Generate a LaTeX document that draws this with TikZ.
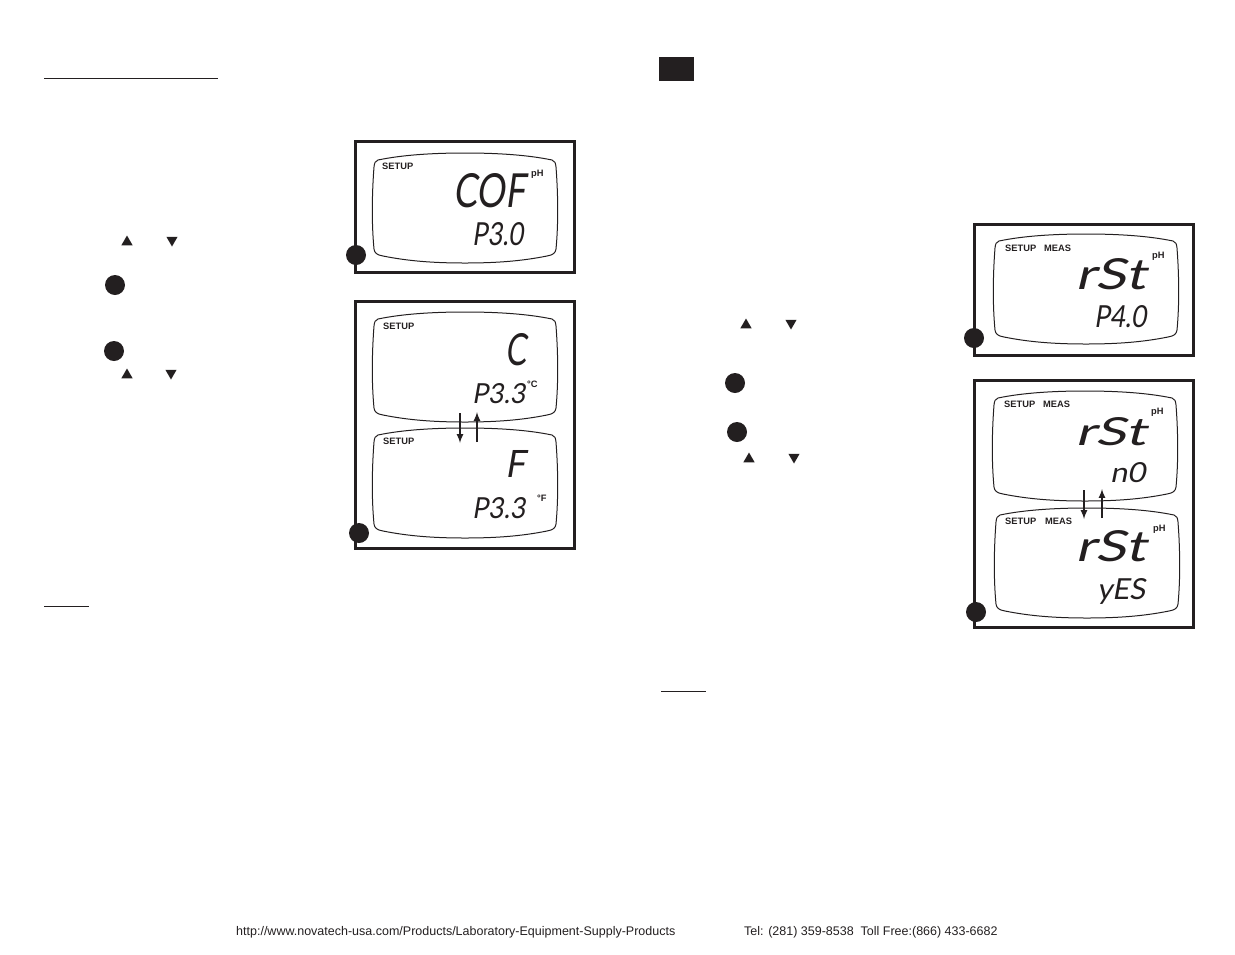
\documentclass[tikz,border=0pt]{standalone}
\usepackage{fontspec}
\usepackage{graphicx}
\usepackage{tikz}
\usetikzlibrary{arrows}
\usetikzlibrary{shapes.geometric}
\setmainfont{Liberation Sans}
\newfontfamily\lcdfont[FakeSlant=0.18]{Lato}
\definecolor{inkblack}{HTML}{231F20}
\def\lcdtext#1#2#3{\resizebox{#1pt}{#2pt}{\lcdfont #3}}
\tikzset{
  lcdpanel/.pic={\draw[inkblack,line width=1pt] (6,7) .. controls (30,2) and (60,0) .. (93,0) .. controls (126,0) and (156,2) .. (180,7) .. controls (183,8) and (183.5,10) .. (184,14) .. controls (186,40) and (186.5,70) .. (184,96) .. controls (183.5,100) and (181,102) .. (175,103) .. controls (150,108) and (125,110) .. (93,110) .. controls (61,110) and (36,108) .. (11,103) .. controls (5,102) and (2.5,100) .. (2,96) .. controls (-0.5,70) and (0,40) .. (2,14) .. controls (2.5,10) and (3,8) .. (6,7) -- cycle;},
  frame/.style={draw=inkblack,line width=3pt,fill=none,inner sep=0pt},
  dot/.style={circle,fill=inkblack,minimum size=20pt,inner sep=0pt},
  upkey/.style={regular polygon,regular polygon sides=3,fill=inkblack,minimum size=13pt,inner sep=0pt},
  downkey/.style={upkey,shape border rotate=180},
  tag/.style={font=\bfseries\fontsize{9.3}{9}\selectfont,text=inkblack,inner sep=0pt,anchor=west},
  lcd/.style={inner sep=0pt,anchor=north west,text=inkblack},
  rule/.style={inkblack,line width=1pt},
  foot/.style={font=\fontsize{12.5}{13}\selectfont,text=inkblack,inner sep=0pt,anchor=west},
  flip/.style={-latex,inkblack,line width=2pt}
}
\begin{document}
\begin{tikzpicture}[x=1pt,y=-1pt]
\useasboundingbox (0,0) rectangle (1235,954);
% left page
\draw[rule] (44,78) -- (218,78);
\draw[rule] (44,606) -- (89,606);
\draw[] (465,206.5) node[frame,minimum width=219pt,minimum height=131pt] (cofframe) {};
\pic (cofpanel) at (372,153) {lcdpanel};
\node[tag] (cofsetup) at (382,166) {SETUP};
\node[tag] (cofph) at (531,174) {pH};
\node[lcd] (cofword) at (453,173) {\lcdtext{72}{34}{COF}};
\node[lcd] (cofcode) at (472,222) {\lcdtext{51}{23}{P3.0}};
\node[dot] (cofdot) at (356,255) {};
\node[upkey] (cofup) at (127,242) {};
\node[downkey] (cofdown) at (172,240) {};
\node[dot] (keya) at (115,285) {};
\node[dot] (keyb) at (114,351) {};
\node[upkey] (unitup) at (127,375) {};
\node[downkey] (unitdown) at (171,373) {};
\draw[] (464.5,424.5) node[frame,minimum width=219pt,minimum height=247pt] (unitframe) {};
\pic (cpanel) at (372,312) {lcdpanel};
\pic (fpanel) at (372,428) {lcdpanel};
\node[tag] (csetup) at (383,326) {SETUP};
\node[tag] (fsetup) at (383,441) {SETUP};
\node[lcd] (cword) at (505,333) {\lcdtext{21}{32}{C}};
\node[lcd] (ccode) at (472,383) {\lcdtext{53}{20}{P3.3}};
\node[tag] (cunit) at (527,384) {°C};
\node[lcd] (fword) at (505,450) {\lcdtext{20}{27}{F}};
\node[lcd] (fcode) at (472,497) {\lcdtext{53}{21}{P3.3}};
\node[tag] (funit) at (537,498) {°F};
\coordinate (ctop) at (460,413);
\coordinate (cbot) at (460,443);
\coordinate (ftop) at (477,412);
\coordinate (fbot) at (477,442);
\draw[flip] (ctop) -- (cbot);
\draw[flip] (fbot) -- (ftop);
\node[dot] (unitdot) at (359,533) {};
% right page
\node[fill=inkblack,minimum width=35pt,minimum height=24pt,inner sep=0pt] (pagetab) at (676.5,69) {};
\draw[rule] (661,691) -- (706,691);
\draw[] (1083.5,289.5) node[frame,minimum width=219pt,minimum height=131pt] (rstframe) {};
\pic (rstpanel) at (993,234) {lcdpanel};
\node[tag] (rstsetup) at (1005,248) {SETUP};
\node[tag] (rstmeas) at (1044,248) {MEAS};
\node[tag] (rstph) at (1152,256) {pH};
\node[lcd] (rstword) at (1075,258) {\lcdtext{70}{31}{rSt}};
\node[lcd] (rstcode) at (1094,305) {\lcdtext{52}{22}{P4.0}};
\node[dot] (rstdot) at (974,338) {};
\node[upkey] (rstup) at (746,325) {};
\node[downkey] (rstdown) at (791,323) {};
\node[dot] (keyc) at (735,383) {};
\node[dot] (keyd) at (737,432) {};
\node[upkey] (yesup) at (749,459) {};
\node[downkey] (yesdown) at (794,457) {};
\draw[] (1083.5,503.5) node[frame,minimum width=219pt,minimum height=247pt] (yesframe) {};
\pic (nopanel) at (992,391) {lcdpanel};
\pic (yespanel) at (994,508) {lcdpanel};
\node[tag] (nosetup) at (1004,404) {SETUP};
\node[tag] (nomeas) at (1043,404) {MEAS};
\node[tag] (noph) at (1151,412) {pH};
\node[lcd] (noword) at (1075,417) {\lcdtext{70}{28}{rSt}};
\node[lcd] (nocode) at (1110,462) {\lcdtext{35}{20}{n0}};
\node[tag] (yessetup) at (1005,521) {SETUP};
\node[tag] (yesmeas) at (1045,521) {MEAS};
\node[tag] (yesph) at (1153,529) {pH};
\node[lcd] (yesword) at (1075,530) {\lcdtext{70}{31}{rSt}};
\node[lcd] (yescode) at (1097,578) {\lcdtext{48}{21}{yES}};
\coordinate (ntop) at (1084,490);
\coordinate (nbot) at (1084,519);
\coordinate (ytop) at (1102,489);
\coordinate (ybot) at (1102,518);
\draw[flip] (ntop) -- (nbot);
\draw[flip] (ybot) -- (ytop);
\node[dot] (yesdot) at (976,612) {};
% footer
\node[foot] (footurl) at (236,932) {http://www.novatech-usa.com/Products/Laboratory-Equipment-Supply-Products};
\node[foot] (foottel) at (744,932) {Tel: (281) 359-8538\ \ Toll Free:(866) 433-6682};
\end{tikzpicture}
\end{document}
